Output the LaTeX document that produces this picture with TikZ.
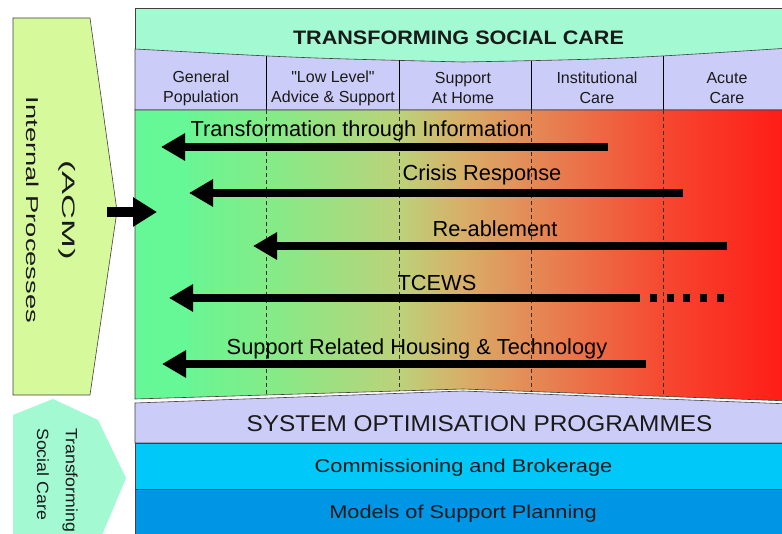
\documentclass[tikz,border=0pt]{standalone}
\usepackage{graphicx}
\usepackage{fontspec}
\setmainfont{Liberation Sans}
\usetikzlibrary{arrows.meta}
\definecolor{aqua}{HTML}{A2F9D2}
\definecolor{lav}{HTML}{CCCCF8}
\definecolor{cyanband}{HTML}{00C8F8}
\definecolor{blueband}{HTML}{0096E6}
\definecolor{lime}{HTML}{D6F99C}
\definecolor{edge}{HTML}{404040}
\definecolor{txt}{HTML}{1A1A1A}
\definecolor{s0}{HTML}{66F796}
\definecolor{s1}{HTML}{6AF594}
\definecolor{s2}{HTML}{82EC88}
\definecolor{s3}{HTML}{BCD27A}
\definecolor{s4}{HTML}{D8AE68}
\definecolor{s5}{HTML}{E48A56}
\definecolor{s6}{HTML}{F64830}
\definecolor{s7}{HTML}{FF1814}
\tikzset{
  bigarrow/.style={line width=7.5pt,-{Triangle[length=24pt,width=26pt]}},
  divline/.style={line width=0.7pt,draw=black},
  divdash/.style={line width=0.7pt,draw=black!80,dash pattern=on 4pt off 3pt},
  hdr/.style={font=\fontsize{16}{20}\selectfont,text=txt,align=center,inner sep=0pt},
  lbl/.style={font=\fontsize{21.8}{24}\selectfont,text=black,inner sep=0pt},
  band/.style={font=\fontsize{18.6}{22}\selectfont,text=txt,inner sep=0pt},
}
\begin{document}
\begin{tikzpicture}[x=1pt,y=-1pt]
\useasboundingbox (0,0) rectangle (782,534);
\clip (0,0) rectangle (782,534);
\fill[white] (0,0) rectangle (782,534);

% left pentagon
\draw[fill=lime,draw=edge,line width=0.6pt] (13,18) -- (90,18) -- (117,211) -- (90,395) -- (13,395) -- cycle;
\node[rotate=-90,font=\fontsize{17.2}{20}\selectfont,text=txt,inner sep=0pt] (ip) at (33,210) {\scalebox{1.59}[1]{Internal Processes}};
\node[rotate=-90,font=\fontsize{18}{20}\selectfont,text=txt,inner sep=0pt] (acm) at (67,210) {\scalebox{1.92}[1]{(ACM)}};

% left hexagon
\fill[aqua] (13,540) -- (13,415) -- (53,399) -- (98,420) -- (126,478) -- (100,540) -- cycle;
\node[rotate=-90,anchor=west,font=\fontsize{16.3}{20}\selectfont,text=txt,inner sep=0pt] (tsc1) at (70,428) {\scalebox{1.09}[1]{Transforming}};
\node[rotate=-90,anchor=west,font=\fontsize{16.3}{20}\selectfont,text=txt,inner sep=0pt] (tsc2) at (43,428) {\scalebox{1.09}[1]{Social Care}};

% title band and header
\draw[fill=aqua,draw=edge,line width=0.6pt] (135,8) rectangle (790,110);
\draw[fill=lav,draw=edge,line width=0.6pt] (135,49) .. controls (300,58) .. (463,62) .. controls (620,59) .. (790,48) -- (790,110) -- (135,110) -- cycle;
\node[font=\bfseries\fontsize{19.5}{22}\selectfont,text=txt,inner sep=0pt] (title) at (458.5,38) {\scalebox{1.107}[1]{TRANSFORMING SOCIAL CARE}};
\foreach \x/\y in {266/56.5,399/60.5,531/61,663/56}{
  \draw[divline] (\x,\y) -- (\x,110);
}
\node[hdr] (h1) at (201,88) {General\\Population};
\node[hdr] (h2) at (333,88) {{\addfontfeatures{Ligatures=TeXOff}"Low Level"}\\Advice \& Support};
\node[hdr] (h3) at (463,88) {Support\\At Home};
\node[hdr] (h4) at (597,88) {Institutional\\Care};
\node[hdr] (h5) at (727,88) {Acute\\Care};

% body with gradient
\begin{scope}
\clip (135,110) -- (790,110) -- (790,401) -- (463,389) -- (135,399) -- cycle;
\fill[s0] (130,100) rectangle (190,410);
\shade[left color=s1,right color=s2] (189.5,100) rectangle (266.5,410);
\shade[left color=s2,right color=s3] (266,100) rectangle (399.5,410);
\shade[left color=s3,right color=s4] (399,100) rectangle (463.5,410);
\shade[left color=s4,right color=s5] (463,100) rectangle (531.5,410);
\shade[left color=s5,right color=s6] (531,100) rectangle (663.5,410);
\shade[left color=s6,right color=s7] (663,100) rectangle (795,410);
\end{scope}
\draw[draw=edge,line width=0.6pt] (135,110) -- (790,110) -- (790,401) -- (463,389) -- (135,399) -- cycle;
\foreach \x/\y in {266/395.5,399/391.5,531/392,663/396.5}{
  \draw[divdash] (\x,110) -- (\x,\y);
}

% lower bands
\draw[fill=lav,draw=edge,line width=0.6pt] (135,403) -- (463,391) -- (790,404) -- (790,443) -- (135,443) -- cycle;
\draw[fill=cyanband,draw=edge,line width=0.6pt] (135,443) rectangle (790,489);
\draw[fill=blueband,draw=edge,line width=0.6pt] (135,489) rectangle (790,540);
\node[font=\fontsize{22.8}{26}\selectfont,text=txt,inner sep=0pt] (sop) at (479.5,424) {\scalebox{1.07}[1]{SYSTEM OPTIMISATION PROGRAMMES}};
\node[band] (cb) at (463.5,468) {\scalebox{1.17}[1]{Commissioning and Brokerage}};
\node[band] (msp) at (463,514) {\scalebox{1.17}[1]{Models of Support Planning}};

% arrows
\coordinate (a1s) at (608,147); \coordinate (a1e) at (161,147);
\coordinate (a2s) at (683,193); \coordinate (a2e) at (189,193);
\coordinate (a3s) at (727,246); \coordinate (a3e) at (253,246);
\coordinate (a4s) at (640,298); \coordinate (a4e) at (169,298);
\coordinate (a4d) at (724,298);
\coordinate (a5s) at (646,364); \coordinate (a5e) at (162,364);
\draw[bigarrow] (a1s) -- (a1e);
\draw[bigarrow] (a2s) -- (a2e);
\draw[bigarrow] (a3s) -- (a3e);
\draw[bigarrow] (a4s) -- (a4e);
\draw[line width=7.5pt,dash pattern=on 7pt off 9.7pt] (650,298) -- (a4d);
\draw[bigarrow] (a5s) -- (a5e);
\node[lbl] (l1) at (361,131) {Transformation through Information};
\node[lbl] (l2) at (482,175) {Crisis Response};
\node[lbl] (l3) at (495,229) {Re-ablement};
\node[lbl] (l4) at (437,283) {TCEWS};
\node[lbl] (l5) at (417,349) {Support Related Housing \& Technology};

% left arrow
\coordinate (la) at (107,212); \coordinate (lb) at (157,212);
\draw[line width=10pt,-{Triangle[length=24pt,width=28pt]}] (la) -- (lb);
\end{tikzpicture}
\end{document}
